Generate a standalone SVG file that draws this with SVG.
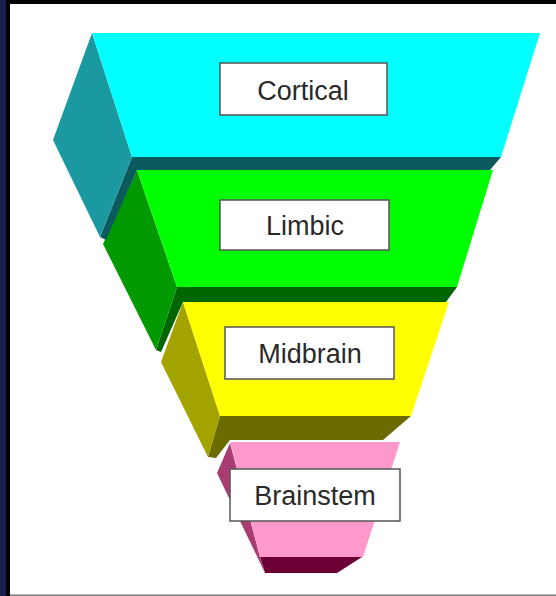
<svg xmlns="http://www.w3.org/2000/svg" width="556" height="596" viewBox="0 0 556 596">
<style>
.box{fill:#ffffff;stroke:#555555;stroke-width:1.5}
.lbl{font-family:"Liberation Sans",Arial,sans-serif;font-size:27px;fill:#2a2a2a;text-anchor:middle}
</style>
<rect x="0" y="0" width="556" height="596" fill="#ffffff"/>
<rect x="0" y="0" width="556" height="4" fill="#000000"/>
<rect x="0" y="0" width="10" height="596" fill="#000000"/>
<rect x="0" y="0" width="6" height="596" fill="#1c1c4e"/>
<rect x="10" y="594.5" width="546" height="1.5" fill="#7a7a7a"/>

<g id="brainstem">
<polygon points="260,557 362,557 337,573 265,573" fill="#6b0034"/>
<polygon points="230,443 217,473 265,573 260,557" fill="#aa3c74"/>
<polygon points="230,442 400,442 363,557 260,557" fill="#ff99cc"/>
<rect class="box" x="230" y="469" width="170" height="52"/>
<text class="lbl" x="315" y="505">Brainstem</text>
</g>

<g id="midbrain">
<polygon points="220,416 411,416 383,440 230,440 216,458 208,457" fill="#6b6b00"/>
<polygon points="183,302 161,362 208,457 220,416" fill="#a3a300"/>
<polygon points="183,302 449,302 411,416 220,416" fill="#ffff00"/>
<rect class="box" x="225" y="327" width="169" height="52"/>
<text class="lbl" x="310" y="363">Midbrain</text>
</g>

<g id="limbic">
<polygon points="177,287 457,287 446,302 183,302 161,352 156,350" fill="#006600"/>
<polygon points="137,170 103,244 156,350 177,287" fill="#009a00"/>
<polygon points="137,170 493,170 457,287 177,287" fill="#00ff00"/>
<rect class="box" x="220" y="200" width="169" height="50"/>
<text class="lbl" x="305" y="235">Limbic</text>
</g>

<g id="cortical">
<polygon points="132,157 501,157 490,170 137,170 106,240 100,237" fill="#0a5a5e"/>
<polygon points="92,33 53,140 100,237 132,157" fill="#1a9aa0"/>
<polygon points="92,33 540,33 501,157 132,157" fill="#00ffff"/>
<rect class="box" x="220" y="63" width="167" height="52"/>
<text class="lbl" x="303" y="100">Cortical</text>
</g>

<g id="connectors"/>
</svg>
